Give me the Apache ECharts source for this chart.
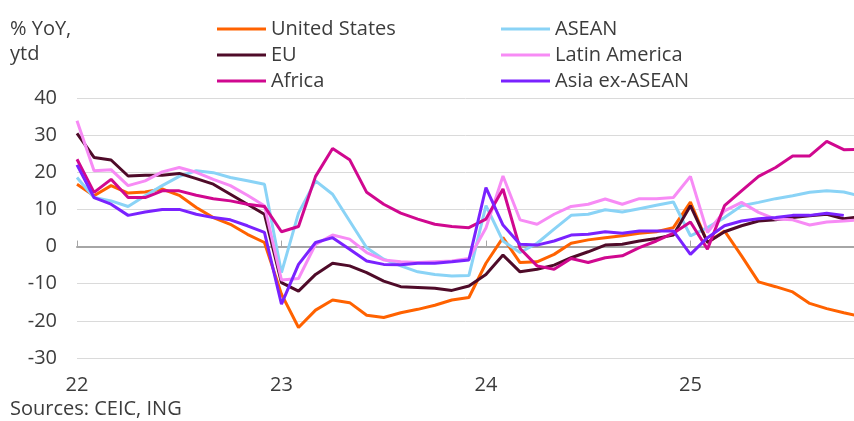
<!DOCTYPE html>
<html>
<head>
<meta charset="utf-8">
<script src="https://cdn.jsdelivr.net/npm/echarts@6/dist/echarts.min.js"></script>
<style>
  html, body { margin: 0; padding: 0; background: #fff; }
  #chart { width: 854px; height: 421px; }
</style>
</head>
<body>
<div id="chart"></div>
<script>
// monthly, Jan 2022 onwards
var yearLabels = ['22', '23', '24', '25'];

var unitedStates = [16.8, 13.7, 16.4, 14.4, 14.7, 15.5, 13.8, 10.5, 7.8, 6.0, 3.3, 1.1,
  -12.8, -21.8, -17.1, -14.4, -15.1, -18.5, -19.1, -17.8, -16.9, -15.8, -14.4, -13.7,
  -4.5, 2.4, -4.3, -4.1, -2.1, 0.9, 1.8, 2.4, 2.9, 3.6, 4.0, 5.1,
  12.0, 1.1, 4.2, -2.5, -9.5, -10.8, -12.2, -15.3, -16.7, -17.8, -18.8];
var asean = [18.6, 13.2, 12.3, 10.8, 13.7, 16.4, 18.9, 20.4, 19.9, 18.6, 17.7, 16.8,
  -7.0, 9.0, 17.7, 14.1, 6.9, -0.3, -3.4, -5.2, -6.8, -7.5, -7.9, -7.8,
  11.0, 1.5, -1.6, 0.9, 4.7, 8.4, 8.7, 9.9, 9.3, 10.2, 11.1, 12.0,
  2.9, 5.1, 7.8, 11.0, 11.9, 12.9, 13.7, 14.6, 15.0, 14.7, 13.6];
var eu = [30.5, 24.0, 23.3, 19.0, 19.2, 19.2, 19.7, 18.3, 16.8, 14.1, 11.4, 8.7,
  -9.7, -12.0, -7.5, -4.5, -5.2, -7.0, -9.3, -10.8, -11.0, -11.2, -11.8, -10.6,
  -7.5, -2.3, -6.8, -6.1, -5.0, -3.0, -1.4, 0.4, 0.6, 1.5, 2.2, 3.1,
  11.0, 1.1, 4.0, 5.6, 6.9, 7.2, 7.8, 8.3, 8.7, 7.5, 8.0];
var latinAmerica = [33.9, 20.4, 20.7, 16.4, 17.7, 20.1, 21.3, 20.0, 18.1, 16.4, 13.8, 11.0,
  -9.0, -8.6, 0.6, 3.1, 2.0, -1.6, -3.6, -4.1, -4.3, -4.1, -3.9, -3.2,
  5.0, 19.0, 7.2, 6.0, 8.7, 10.8, 11.4, 12.8, 11.4, 12.9, 12.9, 13.2,
  18.9, 3.8, 9.6, 11.9, 9.2, 7.4, 7.2, 5.8, 6.6, 6.9, 7.2];
var africa = [23.5, 14.6, 18.1, 13.2, 13.2, 15.0, 15.0, 13.8, 12.9, 12.3, 11.4, 10.8,
  4.0, 5.4, 18.9, 26.4, 23.4, 14.6, 11.4, 9.0, 7.4, 6.0, 5.4, 5.1,
  7.4, 15.5, -0.5, -5.2, -6.1, -3.2, -4.3, -3.0, -2.5, -0.3, 1.5, 3.6,
  6.6, -0.7, 11.0, 15.0, 18.9, 21.3, 24.4, 24.4, 28.3, 26.1, 26.2];
var asiaExAsean = [22.0, 13.2, 11.4, 8.4, 9.3, 10.0, 10.0, 8.7, 7.8, 7.2, 5.6, 3.8,
  -15.5, -4.8, 1.1, 2.4, -0.7, -3.9, -4.8, -4.9, -4.5, -4.5, -4.1, -3.6,
  15.9, 5.8, 0.6, 0.4, 1.5, 3.1, 3.3, 4.0, 3.6, 4.2, 4.2, 4.2,
  -2.1, 2.4, 5.6, 6.9, 7.5, 7.8, 8.4, 8.4, 9.0, 8.4];

var seriesNames = ['United States', 'ASEAN', 'EU', 'Latin America', 'Africa', 'Asia ex-ASEAN'];
var seriesData = [unitedStates, asean, eu, latinAmerica, africa, asiaExAsean];
var seriesColors = ['#ff6200', '#8ad3f6', '#4f0b29', '#f78bf5', '#d0088f', '#7a22ff'];

var textColor = '#3c3c3c';
var font = '"Open Sans", sans-serif';

function toPoints(arr) {
  return arr.map(function (v, i) { return [i, v]; });
}

var myChart = echarts.init(document.getElementById('chart'));
myChart.setOption({
  animation: false,
  textStyle: { fontFamily: font },
  title: {
    text: '% YoY,\nytd',
    left: 10,
    top: 17,
    padding: 0,
    textStyle: { fontSize: 20, fontWeight: 'normal', color: textColor, lineHeight: 25, fontFamily: font }
  },
  legend: [
    {
      data: ['United States', 'EU', 'Africa'],
      orient: 'vertical',
      left: 217, top: 19, padding: 0,
      icon: 'rect', itemWidth: 49, itemHeight: 3, itemGap: 6,
      textStyle: { fontSize: 20, color: textColor, lineHeight: 20, fontFamily: font }
    },
    {
      data: ['ASEAN', 'Latin America', 'Asia ex-ASEAN'],
      orient: 'vertical',
      left: 501, top: 19, padding: 0,
      icon: 'rect', itemWidth: 49, itemHeight: 3, itemGap: 6,
      textStyle: { fontSize: 20, color: textColor, lineHeight: 20, fontFamily: font }
    }
  ],
  graphic: [{
    type: 'text',
    left: 10, top: 399,
    style: { text: 'Sources: CEIC, ING', fontSize: 20, fill: textColor, fontFamily: font }
  }],
  grid: { left: 77, right: 0, top: 98, bottom: 63 },
  xAxis: [
    {
      type: 'value', min: 0, max: 45.6, interval: 12,
      axisLine: { show: false, onZero: false },
      axisTick: { show: false },
      splitLine: { show: false },
      axisLabel: {
        fontSize: 20, color: textColor, margin: 17, showMaxLabel: false,
        formatter: function (v) { return v % 12 === 0 ? yearLabels[v / 12] : ''; }
      }
    },
    {
      type: 'value', min: 0, max: 45.6, interval: 12,
      axisLine: { show: true, onZero: true, lineStyle: { color: '#a6a6a6', width: 2 } },
      axisTick: { show: true, length: 6, lineStyle: { color: '#a6a6a6', width: 1 } },
      splitLine: { show: false },
      axisLabel: { show: false }
    }
  ],
  yAxis: {
    type: 'value', min: -30, max: 40, interval: 10,
    axisLine: { show: false },
    axisTick: { show: false },
    splitLine: { lineStyle: { color: '#dadada', width: 1 } },
    axisLabel: { fontSize: 20, color: textColor, margin: 20 }
  },
  series: seriesNames.map(function (name, k) {
    return {
      name: name,
      type: 'line',
      xAxisIndex: 0,
      data: toPoints(seriesData[k]),
      symbol: 'none',
      clip: true,
      color: seriesColors[k],
      lineStyle: { width: 3, color: seriesColors[k] }
    };
  })
});
</script>
</body>
</html>
